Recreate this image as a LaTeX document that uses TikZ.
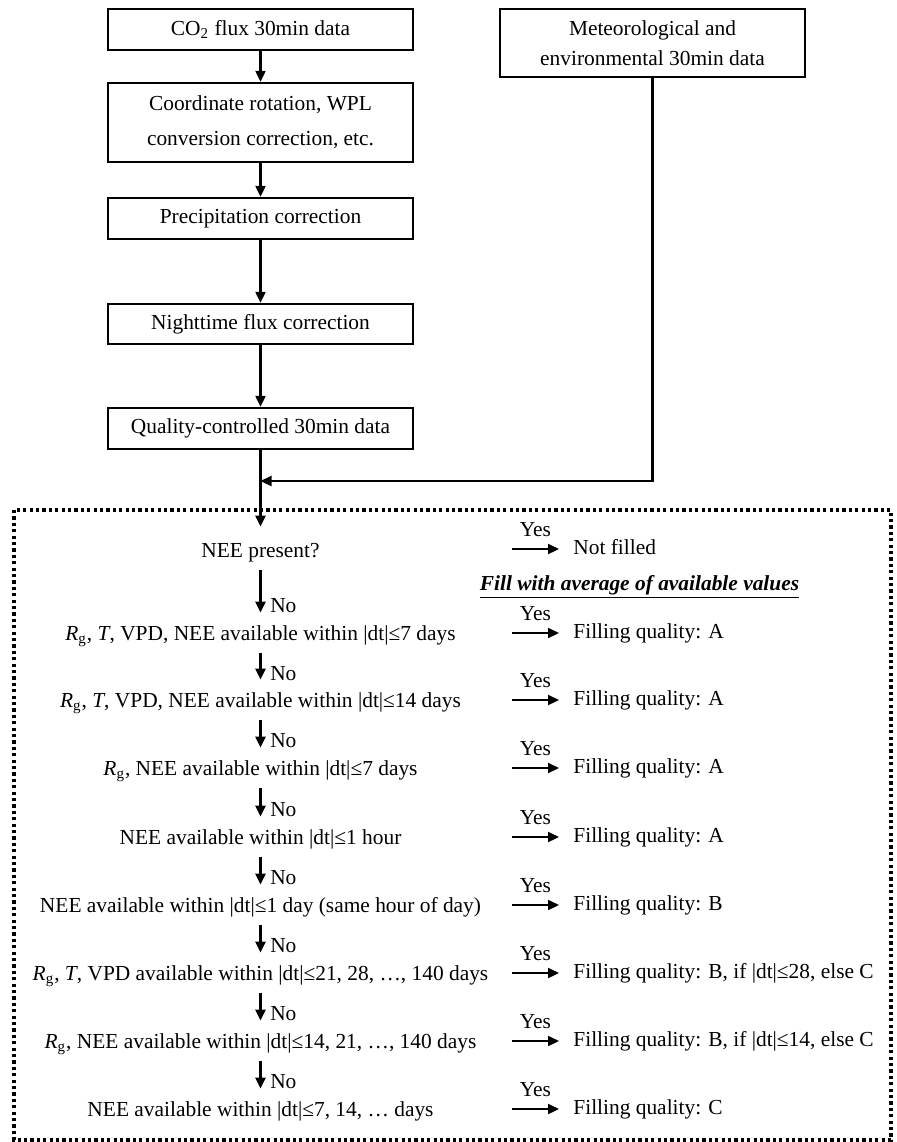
\documentclass[tikz,border=0pt]{standalone}
\usepackage{fontspec}
\setmainfont{Liberation Serif}
\usetikzlibrary{arrows.meta}
\tikzset{
  box/.style={draw,line width=1.2pt,minimum width=152.5pt,align=center,inner sep=0pt},
  cond/.style={inner sep=0pt,text height=7.5pt,text depth=2.5pt},
  result/.style={anchor=west,inner xsep=7pt,inner ysep=0pt,text height=7.5pt,text depth=2.5pt},
  arr/.style={line width=1.1pt,-{Triangle[length=5.5pt,width=5pt]}},
  noarr/.style={arr,shorten <=4pt,shorten >=6pt},
  frame/.style={line width=1.6pt,dash pattern=on 1.6pt off 1.6pt}
}
\newcommand{\Rg}{\textit{R}\textsubscript{g}}
\begin{document}
\begin{tikzpicture}[x=0.5pt,y=-0.5pt,every node/.style={font=\fontsize{10.7}{13}\selectfont}]
\useasboundingbox (0,0) rectangle (896,1142);
\node[box,minimum height=20.5pt] (raw) at (260.5,29.5) {CO\textsubscript{2} flux 30min data};
\node[box,minimum height=39.5pt,font=\fontsize{10.7}{17.5}\selectfont] (rot) at (260.5,122.5) {Coordinate rotation, WPL\\conversion correction, etc.};
\node[box,minimum height=20.5pt] (prec) at (260.5,218.5) {Precipitation correction};
\node[box,minimum height=20pt] (night) at (260.5,324) {Nighttime flux correction};
\node[box,minimum height=20.5pt] (qc) at (260.5,428.5) {Quality-controlled 30min data};
\node[box,minimum height=34pt,font=\fontsize{10.7}{15}\selectfont] (met) at (652.5,43) {Meteorological and\\environmental 30min data};
\coordinate (join) at (260.5,481);
\draw[arr] (raw) -- (rot);
\draw[arr] (rot) -- (prec);
\draw[arr] (prec) -- (night);
\draw[arr] (night) -- (qc);
\draw[arr] (met.south) |- (join);

\draw[frame] (14,510) rectangle (891,1140);

\node[cond] (q0) at (260.5,552) {NEE present?};
\node[cond] (q1) at (260.5,635) {\Rg, \textit{T}, VPD, NEE available within |dt|≤7 days};
\node[cond] (q2) at (260.5,702) {\Rg, \textit{T}, VPD, NEE available within |dt|≤14 days};
\node[cond] (q3) at (260.5,770) {\Rg, NEE available within |dt|≤7 days};
\node[cond] (q4) at (260.5,839) {NEE available within |dt|≤1 hour};
\node[cond] (q5) at (260.5,907) {NEE available within |dt|≤1 day (same hour of day)};
\node[cond] (q6) at (260.5,975) {\Rg, \textit{T}, VPD available within |dt|≤21, 28, …, 140 days};
\node[cond] (q7) at (260.5,1043) {\Rg, NEE available within |dt|≤14, 21, …, 140 days};
\node[cond] (q8) at (260.5,1111) {NEE available within |dt|≤7, 14, … days};

\draw[arr,shorten >=7.5pt] (qc) -- (q0);
\draw[noarr] (q0) -- node[right,pos=0.7,xshift=1pt] (n1) {No} (q1);
\draw[noarr] (q1) -- node[right,pos=0.6,xshift=1pt] (n2) {No} (q2);
\draw[noarr] (q2) -- node[right,pos=0.6,xshift=1pt] (n3) {No} (q3);
\draw[noarr] (q3) -- node[right,pos=0.6,xshift=1pt] (n4) {No} (q4);
\draw[noarr] (q4) -- node[right,pos=0.6,xshift=1pt] (n5) {No} (q5);
\draw[noarr] (q5) -- node[right,pos=0.6,xshift=1pt] (n6) {No} (q6);
\draw[noarr] (q6) -- node[right,pos=0.6,xshift=1pt] (n7) {No} (q7);
\draw[noarr] (q7) -- node[right,pos=0.6,xshift=1pt] (n8) {No} (q8);

\node[result] (r0) at (559,549) {Not filled};
\node (fillnote) at (639.5,587) {\underline{\textbf{\textit{Fill with average of available values}}}};
\node[result] (r1) at (559,633) {Filling quality: A};
\node[result] (r2) at (559,700) {Filling quality: A};
\node[result] (r3) at (559,768) {Filling quality: A};
\node[result] (r4) at (559,837) {Filling quality: A};
\node[result] (r5) at (559,905) {Filling quality: B};
\node[result] (r6) at (559,973) {Filling quality: B, if |dt|≤28, else C};
\node[result] (r7) at (559,1041) {Filling quality: B, if |dt|≤14, else C};
\node[result] (r8) at (559,1109) {Filling quality: C};

\coordinate (s0) at (512,549);
\coordinate (s1) at (512,633);
\coordinate (s2) at (512,700);
\coordinate (s3) at (512,768);
\coordinate (s4) at (512,837);
\coordinate (s5) at (512,905);
\coordinate (s6) at (512,973);
\coordinate (s7) at (512,1041);
\coordinate (s8) at (512,1109);
\draw[arr] (s0) -- node[above=2.5pt] (y0) {Yes} (r0.west);
\draw[arr] (s1) -- node[above=2.5pt] (y1) {Yes} (r1.west);
\draw[arr] (s2) -- node[above=2.5pt] (y2) {Yes} (r2.west);
\draw[arr] (s3) -- node[above=2.5pt] (y3) {Yes} (r3.west);
\draw[arr] (s4) -- node[above=2.5pt] (y4) {Yes} (r4.west);
\draw[arr] (s5) -- node[above=2.5pt] (y5) {Yes} (r5.west);
\draw[arr] (s6) -- node[above=2.5pt] (y6) {Yes} (r6.west);
\draw[arr] (s7) -- node[above=2.5pt] (y7) {Yes} (r7.west);
\draw[arr] (s8) -- node[above=2.5pt] (y8) {Yes} (r8.west);
\end{tikzpicture}
\end{document}
